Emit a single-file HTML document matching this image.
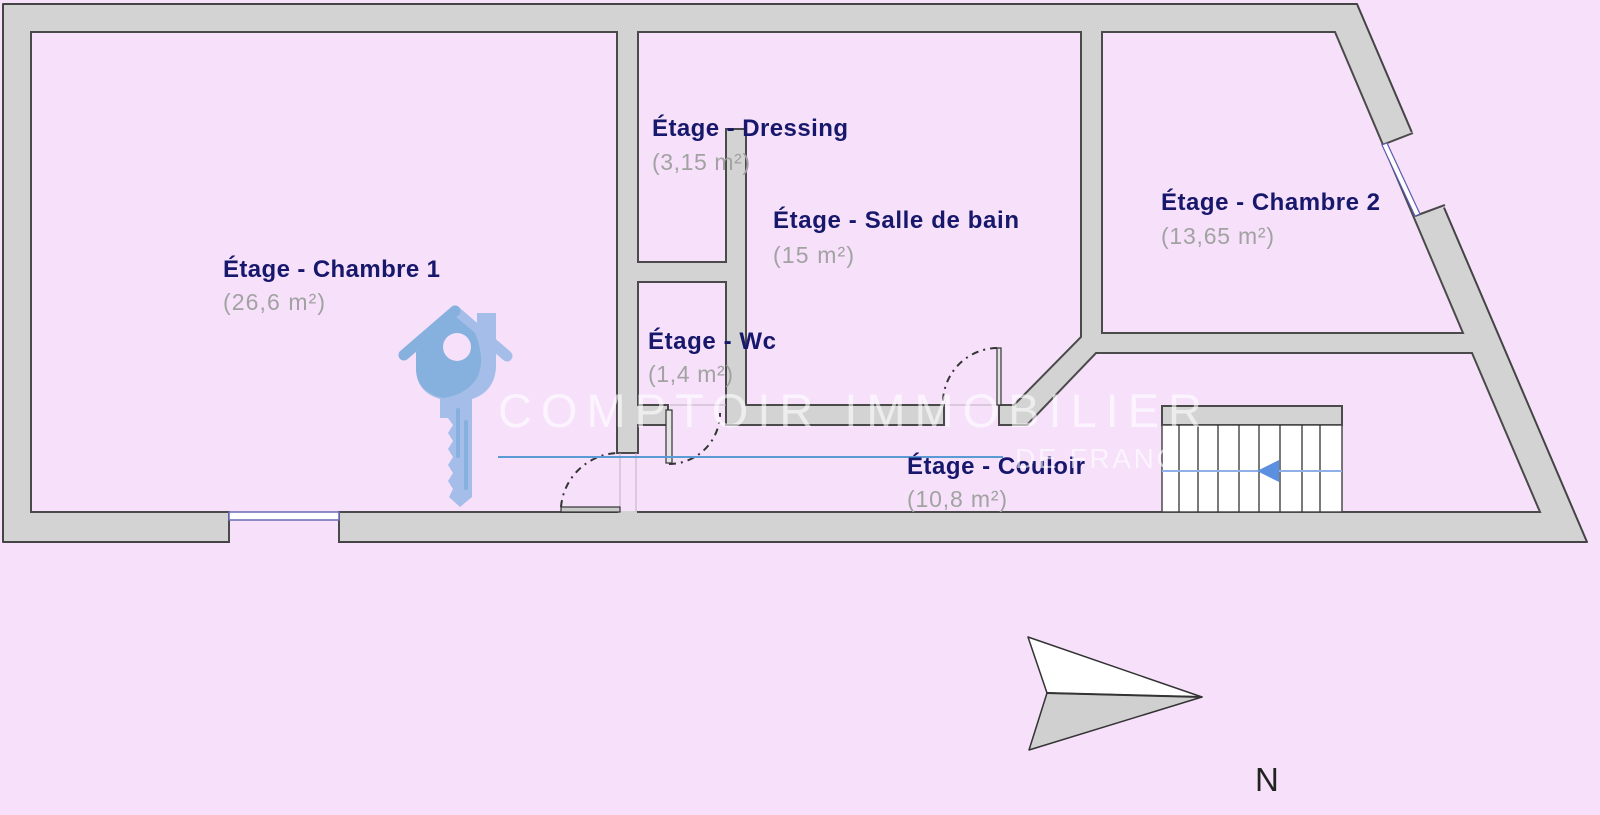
<!DOCTYPE html>
<html><head><meta charset="utf-8">
<style>
html,body{margin:0;padding:0;background:#f6e0fa;}
svg{display:block}
.l{font-family:"Liberation Sans",Arial,sans-serif;font-weight:bold;font-size:24px;fill:#17176b}
.s{font-family:"Liberation Sans",Arial,sans-serif;font-size:23px;fill:#a2a2a2}
.w{font-family:"Liberation Sans",Arial,sans-serif;fill:#ffffff;fill-opacity:0.6}
</style></head><body>
<svg width="1600" height="815" viewBox="0 0 1600 815" xmlns="http://www.w3.org/2000/svg">
<rect width="1600" height="815" fill="#f6e0fa"/>
<!-- building walls -->
<polygon points="3,4 1357,4 1587,542 3,542" fill="#d3d3d3" stroke="#444" stroke-width="2" stroke-linejoin="round"/>
<!-- rooms -->
<g fill="#f6e0fa" stroke="#4a4a4a" stroke-width="2">
<rect x="31" y="32" width="586" height="480"/>
<polygon points="638,32 1081,32 1081,337 1014,405 746,405 746,129 726,129 726,262 638,262"/>
<rect x="638" y="282" width="88" height="123"/>
<polygon points="1102,32 1335,32 1463,333 1102,333"/>
<polygon points="638,425 1027,425 1096,353 1472,353 1540,512 638,512"/>
</g>
<!-- openings -->
<g fill="#f6e0fa">
<rect x="616" y="454" width="24" height="57"/>
<rect x="669" y="404" width="56" height="22"/>
<rect x="945" y="404" width="53" height="22"/>
<rect x="230" y="511" width="108" height="34"/>
<polygon points="1382,145 1414,131 1449,206 1415,216"/>
</g>
<g stroke="#4a4a4a" stroke-width="2" fill="none">
<line x1="617" y1="453" x2="638" y2="453"/>
<line x1="668" y1="405" x2="668" y2="425"/>
<line x1="726" y1="405" x2="726" y2="425"/>
<line x1="944" y1="405" x2="944" y2="425"/>
<line x1="999" y1="405" x2="999" y2="425"/>
<line x1="229" y1="512" x2="229" y2="542"/>
<line x1="339" y1="512" x2="339" y2="542"/>
<line x1="1382" y1="145" x2="1413" y2="133"/>
<line x1="1415" y1="216" x2="1445" y2="205"/>
</g>
<!-- faint thresholds -->
<g stroke="#bfb0c4" stroke-width="1" fill="none">
<line x1="620" y1="453" x2="620" y2="512"/>
<line x1="636" y1="453" x2="636" y2="512"/>
<line x1="670" y1="405" x2="726" y2="405"/>
<line x1="946" y1="405" x2="998" y2="405"/>
</g>
<!-- windows -->
<rect x="229" y="512" width="110" height="8" fill="#fff" stroke="#6a6ab8" stroke-width="1.5"/>
<polygon points="1382,145 1387,143 1420,214 1415,216" fill="#fff" stroke="#5a5ab0" stroke-width="1.2"/>
<!-- doors -->
<rect x="561" y="507" width="59" height="5" fill="#c8c8c8" stroke="#333" stroke-width="1.2"/>
<path d="M561,507 A59,59 0 0 1 617,453" fill="none" stroke="#333" stroke-width="2" stroke-dasharray="7 5 2 5"/>
<rect x="666" y="410" width="6" height="53" fill="#e4e4e4" stroke="#333" stroke-width="1.2"/>
<path d="M669,464 A51,51 0 0 0 720,413" fill="none" stroke="#333" stroke-width="2" stroke-dasharray="7 5 2 5"/>
<rect x="997" y="348" width="4" height="57" fill="#e4e4e4" stroke="#333" stroke-width="1.2"/>
<path d="M997,348 A55,55 0 0 0 943,405" fill="none" stroke="#333" stroke-width="2" stroke-dasharray="7 5 2 5"/>
<!-- stairs -->
<rect x="1162" y="406" width="180" height="19" fill="#d3d3d3" stroke="#4a4a4a" stroke-width="2"/>
<rect x="1162" y="425" width="180" height="87" fill="#fff" stroke="#4a4a4a" stroke-width="1.5"/>
<g stroke="#333" stroke-width="1.3">
<line x1="1179" y1="425" x2="1179" y2="512"/>
<line x1="1198" y1="425" x2="1198" y2="512"/>
<line x1="1218" y1="425" x2="1218" y2="512"/>
<line x1="1239" y1="425" x2="1239" y2="512"/>
<line x1="1259" y1="425" x2="1259" y2="512"/>
<line x1="1280" y1="425" x2="1280" y2="512"/>
<line x1="1302" y1="425" x2="1302" y2="512"/>
<line x1="1320" y1="425" x2="1320" y2="512"/>
</g>
<line x1="1162" y1="471" x2="1342" y2="471" stroke="#8fb0e8" stroke-width="2"/>
<polygon points="1257,471 1279,460 1279,482" fill="#5b8fe0"/>
<!-- corridor blue line -->
<line x1="498" y1="457" x2="1003" y2="457" stroke="#5b9bd5" stroke-width="2"/>
<!-- labels -->
<text class="l" x="223" y="277" textLength="217" lengthAdjust="spacing">Étage - Chambre 1</text>
<text class="s" x="223" y="310" textLength="102" lengthAdjust="spacing">(26,6 m²)</text>
<text class="l" x="652" y="136" textLength="196" lengthAdjust="spacing">Étage - Dressing</text>
<text class="s" x="652" y="170" textLength="98" lengthAdjust="spacing">(3,15 m²)</text>
<text class="l" x="773" y="228" textLength="246" lengthAdjust="spacing">Étage - Salle de bain</text>
<text class="s" x="773" y="263" textLength="81" lengthAdjust="spacing">(15 m²)</text>
<text class="l" x="1161" y="210" textLength="219" lengthAdjust="spacing">Étage - Chambre 2</text>
<text class="s" x="1161" y="244" textLength="113" lengthAdjust="spacing">(13,65 m²)</text>
<text class="l" x="648" y="349" textLength="128" lengthAdjust="spacing">Étage - Wc</text>
<text class="s" x="648" y="382" textLength="85" lengthAdjust="spacing">(1,4 m²)</text>
<text class="l" x="907" y="474" textLength="178" lengthAdjust="spacing">Étage - Couloir</text>
<text class="s" x="907" y="507" textLength="100" lengthAdjust="spacing">(10,8 m²)</text>
<!-- compass -->
<polygon points="1028,637 1202,697 1047,693" fill="#ffffff" stroke="#333" stroke-width="1.5" stroke-linejoin="round"/>
<polygon points="1047,693 1202,697 1029,750" fill="#d0d0d0" stroke="#333" stroke-width="1.5" stroke-linejoin="round"/>
<line x1="1047" y1="693" x2="1202" y2="697" stroke="#333" stroke-width="2"/>
<text x="1255" y="791" font-family="Liberation Sans, Arial, sans-serif" font-size="33" fill="#222">N</text>
<!-- watermark -->
<text class="w" x="498" y="427" font-size="47" textLength="704" lengthAdjust="spacing">COMPTOIR IMMOBILIER</text>
<text class="w" x="1015" y="468" font-size="28" textLength="183" lengthAdjust="spacing">DE FRANCE</text>
<!-- key logo -->
<g>
<rect x="477" y="313" width="19" height="40" fill="#a4bee9"/>
<line x1="455" y1="311" x2="507" y2="356" stroke="#a4bee9" stroke-width="11" stroke-linecap="round"/>
<path d="M416,352 L455,316 L496,350 L496,368 Q494,392 472,399 L440,399 Q416,392 416,368 Z" fill="#a4bee9"/>
<path d="M440,396 L472,396 L472,497 L460,507 L449,497 L453,489 L448,481 L453,473 L448,465 L453,457 L448,449 L453,441 L448,433 L453,425 L448,418 L440,418 Z" fill="#a4bee9"/>
<line x1="455" y1="311" x2="404" y2="355" stroke="#86b0de" stroke-width="11" stroke-linecap="round"/>
<path d="M416,352 L455,316 L475,333 Q486,360 477,378 Q466,395 443,398 Q416,392 416,368 Z" fill="#86b0de"/>
<rect x="456" y="408" width="4" height="50" rx="2" fill="#86b0de"/>
<rect x="464" y="420" width="4" height="70" rx="2" fill="#86b0de"/>
<circle cx="457" cy="347" r="14" fill="#f6e0fa"/>
</g>
</svg>
</body></html>
